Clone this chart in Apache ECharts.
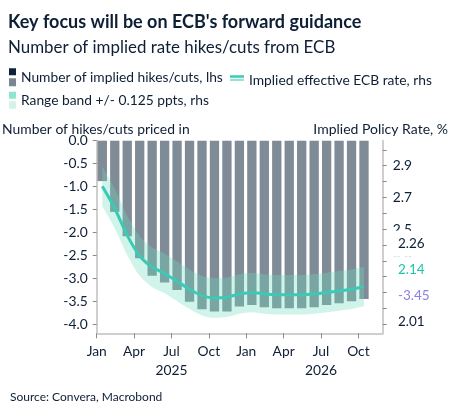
<!DOCTYPE html>
<html>
<head>
<meta charset="utf-8">
<script src="https://cdn.jsdelivr.net/npm/echarts@6/dist/echarts.min.js"></script>
<style>
html,body{margin:0;padding:0;background:#ffffff;}
#c{width:453px;height:417px;}
</style>
</head>
<body>
<div id="c"></div>
<script>
// ---- data ----
const months = ['2025-01','2025-02','2025-03','2025-04','2025-05','2025-06','2025-07','2025-08','2025-09','2025-10','2025-11','2025-12',
                '2026-01','2026-02','2026-03','2026-04','2026-05','2026-06','2026-07','2026-08','2026-09','2026-10'];
const hikesCuts = [-0.88,-1.55,-2.08,-2.56,-2.94,-3.09,-3.25,-3.51,-3.67,-3.72,-3.72,-3.61,
                   -3.58,-3.63,-3.65,-3.65,-3.65,-3.63,-3.58,-3.54,-3.50,-3.45];
const ecbRate = [2.77,2.63,2.46,2.33,2.26,2.22,2.17,2.12,2.08,2.065,2.07,2.09,
                 2.10,2.09,2.085,2.085,2.085,2.09,2.10,2.11,2.12,2.137];
const bandHalfWidth = 0.125;   // "Range band +/- 0.125 ppts"

const leftTicks = [0,-0.5,-1,-1.5,-2,-2.5,-3,-3.5,-4];
const rightTicks = [1.9,2.0,2.1,2.2,2.3,2.4,2.5,2.6,2.7,2.8,2.9,3.0];
const rightTickLabels = [1.9,2.1,2.3,2.5,2.7,2.9];
// month offsets from Jan 2025 (axis in months)
const xTickValues = [0,3,6,9,12,15,18,21];
const xTickLabels = ['Jan','Apr','Jul\n2025','Oct','Jan','Apr','Jul\n2026','Oct'];
const xMonthsShown = 22.95;

// ---- styling ----
const FONT = 'Lato';
const NAVY = '#0d1f35';
const AXIS_GREY = '#cfcfcf';
const TICK_GREY = '#8a8a8a';
const last = months.length - 1;
const xOf = i => i + 0.45;            // mid-month position on the month axis

const LABEL_X = 392;
const LABEL_DY = -23;
const baseLabel = {
  show: true, fontFamily: FONT, fontSize: 13.5, lineHeight: 16,
  backgroundColor: '#ffffff', padding: [5, 6, 5, 6]
};
function pointLabelLayout(p) {
  return { x: LABEL_X, y: p.rect.y + p.rect.height / 2, dy: LABEL_DY,
           align: 'left', verticalAlign: 'middle', moveOverlap: 'shiftY' };
}
function barLabelLayout(p) {
  return { x: LABEL_X, y: p.rect.y + p.rect.height, dy: LABEL_DY,
           align: 'left', verticalAlign: 'middle', moveOverlap: 'shiftY' };
}
function withLastLabel(values, labelOpt) {
  return values.map((v, i) => i === last
    ? { value: [xOf(i), v], label: labelOpt }
    : [xOf(i), v]);
}
// value first, so the stack is computed on the y dimension
function withLastLabelYX(values, labelOpt) {
  return values.map((v, i) => i === last
    ? { value: [v, xOf(i)], label: labelOpt }
    : [v, xOf(i)]);
}

const bandLower = ecbRate.map(v => v - bandHalfWidth);
const bandWidth = ecbRate.map(() => 2 * bandHalfWidth);

const NAME_BARS = 'Number of implied hikes/cuts, lhs';
const NAME_LINE = 'Implied effective ECB rate, rhs';
const NAME_BAND = 'Range band +/- 0.125 ppts, rhs';

const chart = echarts.init(document.getElementById('c'));

const option = {
  animation: false,
  backgroundColor: '#ffffff',
  title: [
    { text: "Key focus will be on ECB's forward guidance", left: 8, top: 13.3, padding: 0,
      textStyle: { fontFamily: FONT, fontSize: 18, fontWeight: 'bold', color: NAVY, lineHeight: 18 } },
    { text: 'Number of implied rate hikes/cuts from ECB', left: 8, top: 39.5, padding: 0,
      textStyle: { fontFamily: FONT, fontSize: 16.9, fontWeight: 'normal', color: NAVY, lineHeight: 16 } },
    { text: 'Number of hikes/cuts priced in', left: 2, top: 122.5, padding: 0,
      textStyle: { fontFamily: FONT, fontSize: 13.9, fontWeight: 'normal', color: NAVY, lineHeight: 14 } },
    { text: 'Implied Policy Rate, %', right: 5, top: 122.5, padding: 0,
      textStyle: { fontFamily: FONT, fontSize: 14, fontWeight: 'normal', color: NAVY, lineHeight: 14 } },
    { text: 'Source: Convera, Macrobond', left: 10, top: 391.5, padding: 0,
      textStyle: { fontFamily: FONT, fontSize: 12, fontWeight: 'normal', color: NAVY, lineHeight: 12 } }
  ],
  legend: [
    { left: 9, top: 68.3, padding: 0, itemWidth: 7, itemHeight: 18, selectedMode: false,
      textStyle: { fontFamily: FONT, fontSize: 13.8, color: NAVY },
      data: [{ name: NAME_BARS, icon: 'path://M0,0h7v7h-7z M0,10h7v8h-7z',
        itemStyle: { color: new echarts.graphic.LinearGradient(0, 0, 0, 1, [
          { offset: 0, color: '#0c2238' }, { offset: 0.5, color: '#0c2238' },
          { offset: 0.5, color: '#7a8692' }, { offset: 1, color: '#7a8692' }]) } }] },
    { left: 230, top: 73.3, padding: 0, itemWidth: 14, itemHeight: 10, selectedMode: false,
      textStyle: { fontFamily: FONT, fontSize: 13.8, color: NAVY },
      data: [{ name: NAME_LINE, icon: 'path://M0,0h14v2.4h-14z M0,3.4h14v2.4h-14z M0,9.95h14v0.05h-14z',
        itemStyle: { color: new echarts.graphic.LinearGradient(0, 0, 0, 1, [
          { offset: 0, color: '#3ccab6' }, { offset: 0.3, color: '#3ccab6' },
          { offset: 0.3, color: '#93e3d6' }, { offset: 0.6, color: '#93e3d6' },
          { offset: 0.6, color: 'rgba(255,255,255,0)' }, { offset: 1, color: 'rgba(255,255,255,0)' }]) } }] },
    { left: 9, top: 91.7, padding: 0, itemWidth: 7, itemHeight: 17, selectedMode: false,
      textStyle: { fontFamily: FONT, fontSize: 13.8, color: NAVY },
      data: [{ name: NAME_BAND, icon: 'path://M0,0h7v7h-7z M0,9.5h7v7.5h-7z',
        itemStyle: { color: new echarts.graphic.LinearGradient(0, 0, 0, 1, [
          { offset: 0, color: '#8fe5cf' }, { offset: 0.5, color: '#8fe5cf' },
          { offset: 0.5, color: '#d3f2e9' }, { offset: 1, color: '#d3f2e9' }]) } }] }
  ],
  grid: { left: 96.7, right: 70.3, top: 140.7, bottom: 83.7, containLabel: false },
  xAxis: {
    type: 'value', min: 0, max: xMonthsShown,
    splitLine: { show: false },
    axisLine: { show: true, onZero: false, lineStyle: { color: AXIS_GREY, width: 2 } },
    axisTick: { show: true, length: 5, lineStyle: { color: TICK_GREY }, customValues: xTickValues },
    axisLabel: { customValues: xTickValues, margin: 9, fontFamily: FONT, fontSize: 13.8, color: NAVY, lineHeight: 19,
      formatter: v => { const k = xTickValues.indexOf(v); return k >= 0 ? xTickLabels[k] : ''; } }
  },
  yAxis: [
    { type: 'value', position: 'left', min: -4.196, max: 0,
      splitLine: { show: false },
      axisLine: { show: true, onZero: false, lineStyle: { color: AXIS_GREY, width: 2 } },
      axisTick: { show: true, length: 4, lineStyle: { color: TICK_GREY }, customValues: leftTicks },
      axisLabel: { customValues: leftTicks, margin: 9, fontFamily: FONT, fontSize: 13.8, color: NAVY,
        formatter: v => v.toFixed(1) } },
    { type: 'value', position: 'right', min: 1.842, max: 3.058,
      splitLine: { show: false },
      axisLine: { show: true, onZero: false, lineStyle: { color: AXIS_GREY, width: 2 } },
      axisTick: { show: true, length: 4, lineStyle: { color: TICK_GREY }, customValues: rightTicks },
      axisLabel: { customValues: rightTickLabels, margin: 10, fontFamily: FONT, fontSize: 13.8, color: NAVY,
        formatter: v => v.toFixed(1) } }
  ],
  series: [
    { name: 'band-lower', type: 'line', yAxisIndex: 1, stack: 'band', smooth: 0.3,
      encode: { x: 1, y: 0 },
      showSymbol: true, symbol: 'circle', symbolSize: 0, silent: true,
      lineStyle: { opacity: 0 }, itemStyle: { color: '#8fe5cf' },
      labelLayout: pointLabelLayout,
      data: withLastLabelYX(bandLower, Object.assign({}, baseLabel, { color: NAVY,
        formatter: () => bandLower[last].toFixed(2) })) },
    { name: NAME_BAND, type: 'line', yAxisIndex: 1, stack: 'band', smooth: 0.3,
      encode: { x: 1, y: 0 },
      showSymbol: true, symbol: 'circle', symbolSize: 0, silent: true,
      lineStyle: { opacity: 0 }, itemStyle: { color: '#8fe5cf' },
      areaStyle: { color: 'rgba(110,222,190,0.32)', opacity: 1 },
      labelLayout: pointLabelLayout,
      data: withLastLabelYX(bandWidth, Object.assign({}, baseLabel, { color: NAVY,
        formatter: () => (bandLower[last] + bandWidth[last]).toFixed(2) })) },
    { name: NAME_LINE, type: 'line', yAxisIndex: 1, smooth: 0.3,
      showSymbol: true, symbol: 'circle', symbolSize: 0, silent: true,
      lineStyle: { color: '#3cc9b5', width: 3 }, itemStyle: { color: '#3cc9b5' },
      labelLayout: pointLabelLayout,
      data: withLastLabel(ecbRate, Object.assign({}, baseLabel, { color: '#22c3ae',
        formatter: () => ecbRate[last].toFixed(2) })) },
    { name: NAME_BARS, type: 'bar', yAxisIndex: 0, barWidth: 9.3, silent: true,
      itemStyle: { color: 'rgba(13,35,58,0.53)' },
      labelLayout: barLabelLayout,
      data: withLastLabel(hikesCuts, Object.assign({}, baseLabel, { color: '#8a7fe6',
        formatter: () => hikesCuts[last].toFixed(2) })) }
  ]
};
chart.setOption(option);
</script>
</body>
</html>
